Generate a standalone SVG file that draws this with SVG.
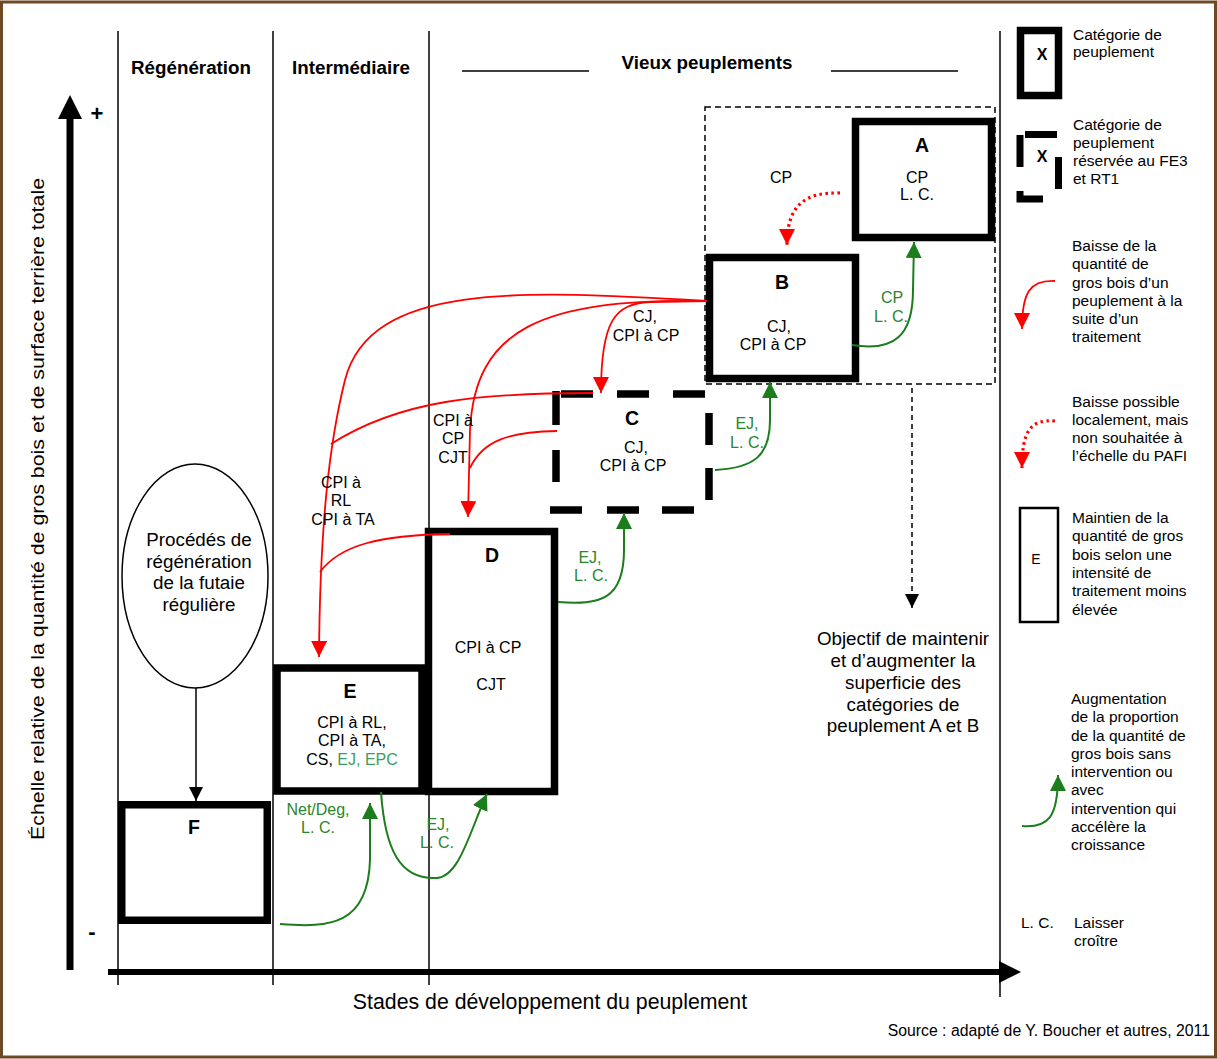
<svg xmlns="http://www.w3.org/2000/svg" width="1217" height="1059" viewBox="0 0 1217 1059">
<style>
text{font-family:"Liberation Sans",Arial,sans-serif;fill:#000}
.hd{font-size:18.8px;font-weight:bold;text-anchor:middle}
.t{font-size:16px;text-anchor:middle}
.lt{font-size:19.5px;font-weight:bold;text-anchor:middle}
.lx{font-size:16px;font-weight:bold;text-anchor:middle}
.big{font-size:18.8px;text-anchor:middle}
.lg{font-size:15.5px}
.g{fill:#2a862a}
.g2{fill:#3b9d60}
.box{fill:#fff;stroke:#000;stroke-width:7.5}
.vl{stroke:#000;stroke-width:1.5;fill:none}
.red{stroke:#ff0000;stroke-width:1.8;fill:none}
.redd{stroke:#ff0000;stroke-width:3.2;fill:none;stroke-dasharray:2.5 3.5}
.grn{stroke:#1b7d1b;stroke-width:2;fill:none}
.cd{stroke:#000;stroke-width:7.5;fill:none}
</style>
<defs>
<marker id="mr" viewBox="0 0 16 16" refX="16" refY="8" markerWidth="16" markerHeight="16" markerUnits="userSpaceOnUse" orient="auto"><path d="M0,0 L16,8 L0,16 z" fill="#ff0000"/></marker>
<marker id="mg" viewBox="0 0 16 16" refX="16" refY="8" markerWidth="16" markerHeight="16" markerUnits="userSpaceOnUse" orient="auto"><path d="M0,0 L16,8 L0,16 z" fill="#1b7d1b"/></marker>
<marker id="mk" viewBox="0 0 16 16" refX="16" refY="8" markerWidth="14" markerHeight="16" markerUnits="userSpaceOnUse" orient="auto"><path d="M0,0 L16,8 L0,16 z" fill="#000"/></marker>
</defs>
<rect x="0" y="0" width="1217" height="1059" fill="#fff"/>
<rect x="1.5" y="2" width="1214" height="1055" fill="none" stroke="#6e4a24" stroke-width="3"/>

<g id="grid">
<line class="vl" x1="118" y1="31" x2="118" y2="985"/>
<line class="vl" x1="273" y1="31" x2="273" y2="985"/>
<line class="vl" x1="429" y1="31" x2="429" y2="985"/>
<line class="vl" x1="1000" y1="31" x2="1000" y2="997"/>
<line class="vl" x1="462" y1="71" x2="589" y2="71"/>
<line class="vl" x1="831" y1="71" x2="958" y2="71"/>
<text class="hd" x="191" y="74">Régénération</text>
<text class="hd" x="351" y="74">Intermédiaire</text>
<text class="hd" x="707" y="69">Vieux peuplements</text>
</g>

<g id="axes">
<line x1="70" y1="970" x2="70" y2="116" stroke="#000" stroke-width="7"/>
<polygon points="70,95 58,119 82,119" fill="#000"/>
<line x1="108" y1="972" x2="1002" y2="972" stroke="#000" stroke-width="6"/>
<polygon points="1021,972 999,961 999,983" fill="#000"/>
<text x="97" y="121" font-size="22" font-weight="bold" text-anchor="middle">+</text>
<text x="92" y="939" font-size="22" font-weight="bold" text-anchor="middle">-</text>
<text transform="translate(44,509) rotate(-90)" font-size="19" text-anchor="middle" textLength="662" lengthAdjust="spacingAndGlyphs">Échelle relative de la quantité de gros bois et de surface terrière totale</text>
<text x="550" y="1009" font-size="21.3" text-anchor="middle">Stades de développement du peuplement</text>
<text x="1210" y="1036" font-size="15.8" text-anchor="end">Source : adapté de Y. Boucher et autres, 2011</text>
</g>

<g id="zoneAB">
<rect x="705" y="107" width="290" height="277" fill="none" stroke="#000" stroke-width="1.5" stroke-dasharray="6 4"/>
</g>

<g id="nodeA">
<rect class="box" x="855.5" y="121.5" width="136" height="116"/>
<text class="lt" x="922" y="152">A</text>
<text class="t" x="917" y="183">CP</text>
<text class="t" x="917" y="200">L. C.</text>
</g>

<g id="nodeB">
<rect class="box" x="709.5" y="257.5" width="146" height="121"/>
<text class="lt" x="782" y="289">B</text>
<text class="t" x="779" y="332">CJ,</text>
<text class="t" x="773" y="350">CPI à CP</text>
</g>

<g id="nodeC">
<rect x="556" y="394" width="153" height="116" fill="#fff"/>
<path class="cd" d="M561 394 H593 M617 394 H649 M673 394 H705 M556 391 V425 M556 450 V482 M709 413 V445 M709 468 V500 M550 510 H582 M607 510 H639 M662 510 H694"/>
<text class="lt" x="632" y="425">C</text>
<text class="t" x="636" y="453">CJ,</text>
<text class="t" x="633" y="471">CPI à CP</text>
</g>

<g id="nodeE">
<rect class="box" x="277" y="668" width="145" height="123"/>
<text class="lt" x="350" y="698">E</text>
<text class="t" x="352" y="728">CPI à RL,</text>
<text class="t" x="352" y="746">CPI à TA,</text>
<text class="t" x="352" y="765">CS, <tspan class="g2">EJ, EPC</tspan></text>
</g>

<g id="nodeD">
<rect class="box" x="428.5" y="531.5" width="126" height="260"/>
<text class="lt" x="492" y="562">D</text>
<text class="t" x="488" y="653">CPI à CP</text>
<text class="t" x="491" y="690">CJT</text>
</g>

<g id="nodeF">
<rect class="box" x="121.75" y="804.75" width="145.5" height="115.5"/>
<text class="lt" x="194" y="834">F</text>
</g>

<g id="nodeProc">
<ellipse cx="195" cy="576" rx="73" ry="112" fill="#fff" stroke="#000" stroke-width="1.5"/>
<text class="big" x="199" y="546">Procédés de</text>
<text class="big" x="199" y="568">régénération</text>
<text class="big" x="199" y="589">de la futaie</text>
<text class="big" x="199" y="611">régulière</text>
</g>

<g id="objectif">
<text class="big" x="903" y="645">Objectif de maintenir</text>
<text class="big" x="903" y="667">et d’augmenter la</text>
<text class="big" x="903" y="689">superficie des</text>
<text class="big" x="903" y="711">catégories de</text>
<text class="big" x="903" y="732">peuplement A et B</text>
</g>

<g id="connectors">
<line x1="196" y1="688" x2="196" y2="801" stroke="#000" stroke-width="1.5" marker-end="url(#mk)"/>
<line x1="912" y1="388" x2="912" y2="608" stroke="#000" stroke-width="1.5" stroke-dasharray="5 4" marker-end="url(#mk)"/>
<path class="red" d="M707 301 C520 290 370 282 345 380 C330 440 320 520 319 657" marker-end="url(#mr)"/>
<path class="red" d="M707 301 C540 298 475 330 470 430 L468 517" marker-end="url(#mr)"/>
<path class="red" d="M707 301 L650 302 C615 304 601 320 601 393" marker-end="url(#mr)"/>
<path class="red" d="M593 393 C480 393 400 400 331 444"/>
<path class="red" d="M557 431 C510 432 483 440 470 468"/>
<path class="red" d="M450 534 C380 535 340 545 320 572"/>
<path class="redd" d="M840 193 C805 192 787 205 787 245" marker-end="url(#mr)"/>
<path class="grn" d="M852 345 C895 352 913 335 913 290 L914 242" marker-end="url(#mg)"/>
<path class="grn" d="M715 470 C755 468 770 455 770 420 L770 382" marker-end="url(#mg)"/>
<path class="grn" d="M558 602 C600 605 624 600 624 550 L624 513" marker-end="url(#mg)"/>
<path class="grn" d="M381 792 C385 850 400 880 437 878 C460 876 470 830 487 794" marker-end="url(#mg)"/>
<path class="grn" d="M280 924 C330 928 368 925 370 860 L370 803" marker-end="url(#mg)"/>
<text class="t" x="781" y="183">CP</text>
<text class="t" x="645" y="322">CJ,</text>
<text class="t" x="646" y="341">CPI à CP</text>
<text class="t" x="453" y="426">CPI à</text>
<text class="t" x="453" y="444">CP</text>
<text class="t" x="453" y="463">CJT</text>
<text class="t" x="341" y="488">CPI à</text>
<text class="t" x="341" y="506">RL</text>
<text class="t" x="343" y="525">CPI à TA</text>
<text class="t g" x="892" y="303">CP</text>
<text class="t g" x="891" y="322">L. C.</text>
<text class="t g" x="747" y="429">EJ,</text>
<text class="t g" x="747" y="448">L. C.</text>
<text class="t g" x="590" y="563">EJ,</text>
<text class="t g" x="591" y="581">L. C.</text>
<text class="t g" x="318" y="815">Net/Deg,</text>
<text class="t g" x="318" y="833">L. C.</text>
<text class="t g" x="438" y="830">EJ,</text>
<text class="t g" x="437" y="848">L. C.</text>
</g>

<g id="legend">
<rect class="box" x="1020.5" y="30.5" width="38" height="65"/>
<text class="lx" x="1042" y="60">X</text>
<text class="lg" x="1073" y="40">Catégorie de</text>
<text class="lg" x="1073" y="57">peuplement</text>
<path d="M1025 134.5 H1057 M1020 135 V167 M1058.5 157 V189 M1020 191 V199 H1043" stroke="#000" stroke-width="7" fill="none"/>
<text class="lx" x="1042" y="162">X</text>
<text class="lg" x="1073" y="130">Catégorie de</text>
<text class="lg" x="1073" y="148">peuplement</text>
<text class="lg" x="1073" y="166">réservée au FE3</text>
<text class="lg" x="1073" y="184">et RT1</text>
<path class="red" d="M1055 281 C1030 280 1022 292 1022 329" marker-end="url(#mr)"/>
<text class="lg" x="1072" y="251">Baisse de la</text>
<text class="lg" x="1072" y="269">quantité de</text>
<text class="lg" x="1072" y="288">gros bois d’un</text>
<text class="lg" x="1072" y="306">peuplement à la</text>
<text class="lg" x="1072" y="324">suite d’un</text>
<text class="lg" x="1072" y="342">traitement</text>
<path class="redd" d="M1055 421 C1030 419 1022 432 1022 468" marker-end="url(#mr)"/>
<text class="lg" x="1072" y="407">Baisse possible</text>
<text class="lg" x="1072" y="425">localement, mais</text>
<text class="lg" x="1072" y="443">non souhaitée à</text>
<text class="lg" x="1072" y="461">l’échelle du PAFI</text>
<rect x="1020" y="508" width="38" height="114" fill="#fff" stroke="#000" stroke-width="2.5"/>
<text x="1036" y="564" font-size="14" text-anchor="middle">E</text>
<text class="lg" x="1072" y="523">Maintien de la</text>
<text class="lg" x="1072" y="541">quantité de gros</text>
<text class="lg" x="1072" y="560">bois selon une</text>
<text class="lg" x="1072" y="578">intensité de</text>
<text class="lg" x="1072" y="596">traitement moins</text>
<text class="lg" x="1072" y="615">élevée</text>
<path class="grn" d="M1022 826 C1048 828 1058 818 1058 775" marker-end="url(#mg)"/>
<text class="lg" x="1071" y="704">Augmentation</text>
<text class="lg" x="1071" y="722">de la proportion</text>
<text class="lg" x="1071" y="741">de la quantité de</text>
<text class="lg" x="1071" y="759">gros bois sans</text>
<text class="lg" x="1071" y="777">intervention ou</text>
<text class="lg" x="1071" y="795">avec</text>
<text class="lg" x="1071" y="814">intervention qui</text>
<text class="lg" x="1071" y="832">accélère la</text>
<text class="lg" x="1071" y="850">croissance</text>
<text class="lg" x="1021" y="928">L. C.</text>
<text class="lg" x="1074" y="928">Laisser</text>
<text class="lg" x="1074" y="946">croître</text>
</g>
</svg>
